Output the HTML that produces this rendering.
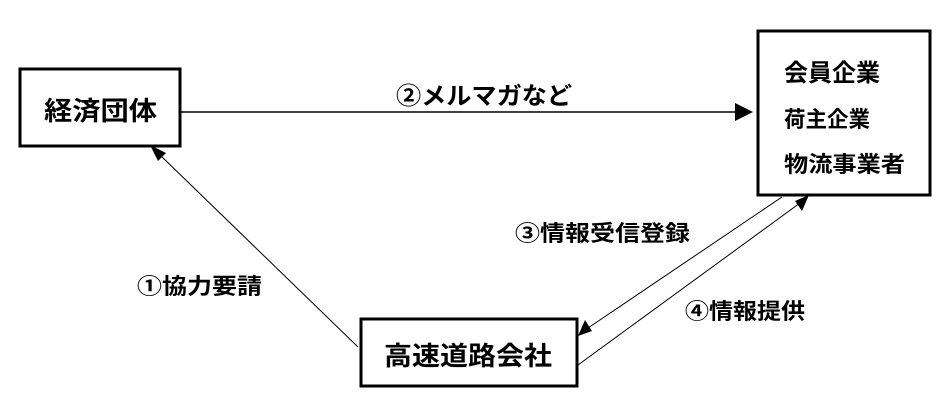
<!DOCTYPE html>
<html><head><meta charset="utf-8"><style>
html,body{margin:0;padding:0;background:#fff;}
svg{display:block;}
text{font-family:"Liberation Sans","Noto Sans CJK JP",sans-serif;font-weight:bold;fill:#000;}
</style></head><body>
<svg width="950" height="412" viewBox="0 0 950 412" xmlns="http://www.w3.org/2000/svg">
<rect x="20" y="69" width="160" height="77" fill="#fff" stroke="#000" stroke-width="3"/>
<rect x="758" y="31" width="172" height="164" fill="#fff" stroke="#000" stroke-width="3"/>
<rect x="361" y="319" width="216" height="67" fill="#fff" stroke="#000" stroke-width="3"/>
<line x1="181" y1="112" x2="735" y2="112" stroke="#000" stroke-width="1.5"/>
<path d="M735,103 L753,112 L735,121 z" fill="#000"/>
<line x1="358" y1="347" x2="160" y2="155" stroke="#000" stroke-width="1"/>
<path d="M150,145 L166,153 L158,161 z" fill="#000"/>
<line x1="782" y1="197" x2="588" y2="328" stroke="#000" stroke-width="1"/>
<path d="M578,336 L585,320 L592,331 z" fill="#000"/>
<line x1="578" y1="365" x2="800" y2="203" stroke="#000" stroke-width="1"/>
<path d="M809,195 L802,211 L795,201 z" fill="#000"/>
<text x="44" y="120" font-size="26" textLength="113" lengthAdjust="spacingAndGlyphs">経済団体</text>
<text x="396" y="104" font-size="24" textLength="176" lengthAdjust="spacingAndGlyphs">②メルマガなど</text>
<text x="784" y="81" font-size="24" textLength="96" lengthAdjust="spacingAndGlyphs">会員企業</text>
<text x="784" y="127" font-size="22" textLength="86" lengthAdjust="spacingAndGlyphs">荷主企業</text>
<text x="784" y="172" font-size="22" textLength="121" lengthAdjust="spacingAndGlyphs">物流事業者</text>
<text x="515" y="241" font-size="22" textLength="175" lengthAdjust="spacingAndGlyphs">③情報受信登録</text>
<text x="137" y="294" font-size="22" textLength="125" lengthAdjust="spacingAndGlyphs">①協力要請</text>
<text x="685" y="319" font-size="22" textLength="120" lengthAdjust="spacingAndGlyphs">④情報提供</text>
<text x="384" y="365" font-size="26" textLength="168" lengthAdjust="spacingAndGlyphs">高速道路会社</text>
</svg>
</body></html>
